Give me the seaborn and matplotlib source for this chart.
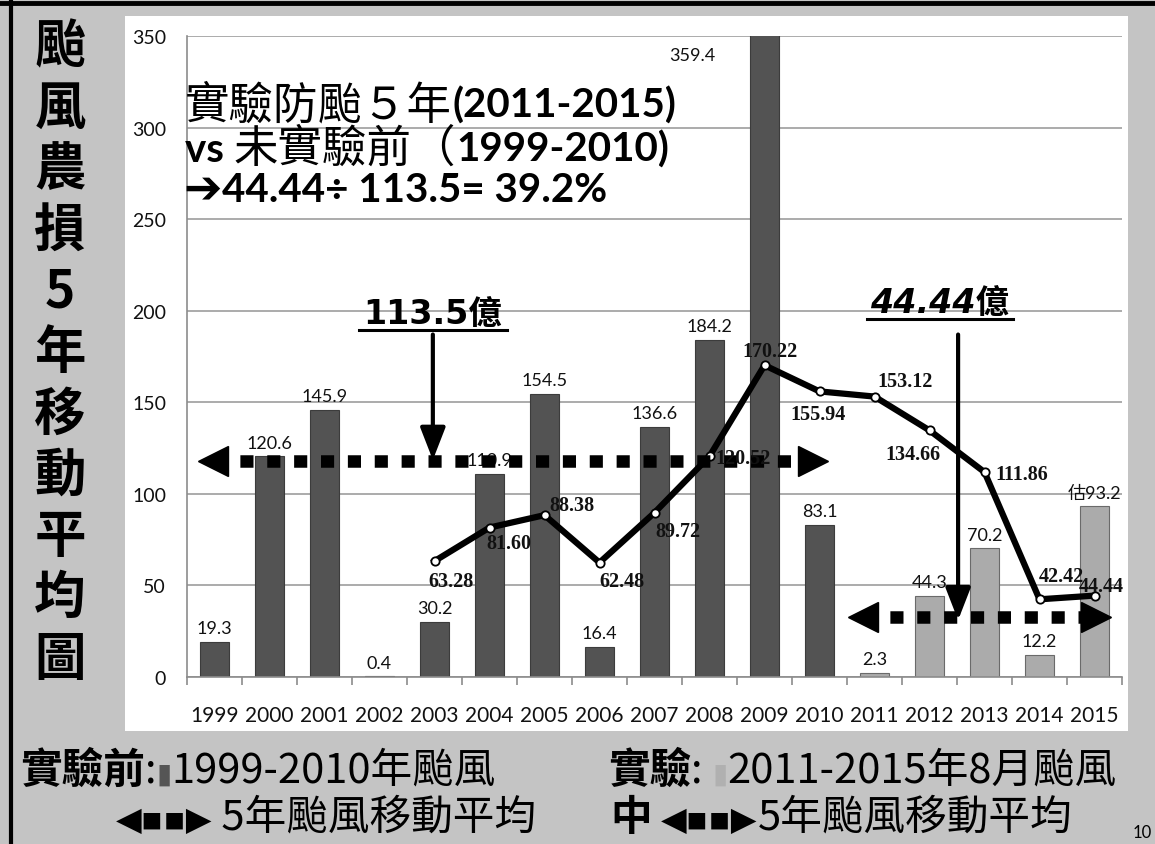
import numpy as np
import pandas as pd
import matplotlib
matplotlib.use("Agg")
import matplotlib.pyplot as plt
import seaborn as sns
from matplotlib.patches import Rectangle
from matplotlib.lines import Line2D
from matplotlib import font_manager

# ---------------- data ----------------
years = ['1999', '2000', '2001', '2002', '2003', '2004', '2005', '2006', '2007',
         '2008', '2009', '2010', '2011', '2012', '2013', '2014', '2015']
damage = [19.3, 120.6, 145.9, 0.4, 30.2, 110.9, 154.5, 16.4, 136.6,
          184.2, 359.4, 83.1, 2.3, 44.3, 70.2, 12.2, 93.2]
bar_text = ['19.3', '120.6', '145.9', '0.4', '30.2', '110.9', '154.5', '16.4', '136.6',
            '184.2', '359.4', '83.1', '2.3', '44.3', '70.2', '12.2', '估93.2']
period = ['實驗前'] * 12 + ['實驗'] * 5
ma_years = ['2003', '2004', '2005', '2006', '2007', '2008', '2009', '2010',
            '2011', '2012', '2013', '2014', '2015']
ma_values = [63.28, 81.60, 88.38, 62.48, 89.72, 120.52, 170.22, 155.94,
             153.12, 134.66, 111.86, 42.42, 44.44]
ma_text = ['63.28', '81.60', '88.38', '62.48', '89.72', '120.52', '170.22', '155.94',
           '153.12', '134.66', '111.86', '42.42', '44.44']
avg_before_text = '113.5億'
avg_after_text = '44.44億'
y_ticks = [0, 50, 100, 150, 200, 250, 300, 350]

# ---------------- style ----------------
CJK = 'Noto Sans CJK TC'
names = {f.name for f in font_manager.fontManager.ttflist}
NARROW = 'Liberation Sans Narrow' if 'Liberation Sans Narrow' in names else 'Lato'

W, H = 1155, 845
fig = plt.figure(figsize=(W / 100, H / 100), dpi=100)
fig.patch.set_facecolor('#c4c4c4')

# white chart panel
fig.add_artist(Rectangle((125 / W, 1 - 732 / H), (1128 - 125) / W, (732 - 17) / H,
                         transform=fig.transFigure, facecolor='white',
                         edgecolor='none', zorder=-5))
# black frame pieces (top / left)
fig.add_artist(Line2D([0, 1], [1 - 4 / H, 1 - 4 / H], transform=fig.transFigure,
                      color='black', lw=3.5))
fig.add_artist(Line2D([11 / W, 11 / W], [0, 1], transform=fig.transFigure,
                      color='black', lw=3))

ax = fig.add_axes([187 / W, 1 - 678 / H, (1122 - 187) / W, (678 - 37) / H])
ax.set_facecolor('white')

df = pd.DataFrame({'year': years, 'damage': damage, 'period': period})
sns.barplot(data=df, x='year', y='damage', hue='period',
            palette={'實驗前': '#535353', '實驗': '#ababab'},
            dodge=False, width=0.51, legend=False, ax=ax, saturation=1)

for cont in ax.containers:
    labels = []
    for bar in cont:
        i = int(round(bar.get_x() + bar.get_width() / 2))
        bar.set_edgecolor('#3c3c3c' if period[i] == '實驗前' else '#6a6a6a')
        bar.set_linewidth(0.8)
        labels.append('' if damage[i] > 350 else bar_text[i])
    ax.bar_label(cont, labels=labels, padding=4, fontsize=13,
                 family=['Lato', CJK], color='#111111')

# label of clipped bar
i_max = int(np.argmax(damage))
ax.annotate(bar_text[i_max], (i_max, 350), xytext=(-52, -14),
            textcoords='offset points', ha='center', va='center',
            fontsize=13, family='Lato', color='#111111')

ax.set_ylim(0, 350)
ax.set_xlim(-0.5, len(years) - 0.5)
ax.set_yticks(y_ticks)
ax.set_xlabel('')
ax.set_ylabel('')
ax.grid(axis='y', color='#9d9d9d', lw=1.2)
ax.grid(axis='x', visible=False)
ax.set_axisbelow(True)
for s in ['top', 'right']:
    ax.spines[s].set_visible(False)
ax.spines['left'].set_color('#8c8c8c')
ax.spines['bottom'].set_color('#8c8c8c')
ax.spines['left'].set_linewidth(1.2)
ax.spines['bottom'].set_linewidth(1.2)
ax.tick_params(axis='y', length=0, pad=15, labelsize=14, labelcolor='#111111')
ax.tick_params(axis='x', which='major', length=0, pad=20, labelsize=15,
               labelcolor='#111111')
ax.set_xticks(np.arange(-0.5, len(years), 1), minor=True)
ax.tick_params(axis='x', which='minor', length=6, color='#8c8c8c', width=1.2)
for t in ax.get_yticklabels():
    t.set_family('Lato')
for t in ax.get_xticklabels():
    t.set_family(NARROW)

# moving average line
ma_pos = [years.index(y) for y in ma_years]
sns.lineplot(x=ma_pos, y=ma_values, ax=ax, color='black', lw=4.5, marker='o',
             markersize=6, markerfacecolor='white', markeredgecolor='black',
             markeredgewidth=1.3, zorder=6)
ma_off = [(12, -14), (14, -11), (20, 7), (16, -13), (17, -13), (24, -1),
          (4, 10), (-1, -16), (22, 11), (-12, -17), (27, -1), (16, 17), (5, 7)]
for p, v, t, o in zip(ma_pos, ma_values, ma_text, ma_off):
    ax.annotate(t, (p, v), xytext=o, textcoords='offset points', ha='center',
                va='center', fontsize=14.5, fontweight='bold',
                family='Liberation Serif', color='#111111', zorder=8)

# dotted double arrows
def dotted_arrow(x0, x1, y):
    ax.plot([x0, x1], [y, y], color='black', lw=9, linestyle=(0, (1.05, 1.1)),
            dash_capstyle='butt', zorder=7, clip_on=False)
    ax.plot([x0], [y], marker='<', ms=21, color='black', zorder=7, clip_on=False)
    ax.plot([x1], [y], marker='>', ms=21, color='black', zorder=7, clip_on=False)

dotted_arrow(-0.03, 10.88, 118)
dotted_arrow(11.79, 16.03, 32.7)

# average callouts with arrows
def callout(text, xc, ybase, yline, x_arrow, y_from, y_to, half, italic=False):
    ax.text(xc, ybase, text, ha='center', va='baseline', fontsize=24,
            fontweight='bold', style='italic' if italic else 'normal',
            family=['DejaVu Sans', CJK], color='black', zorder=9)
    ax.plot([xc - half, xc + half], [yline, yline], color='black', lw=2.2,
            zorder=9, clip_on=False)
    ax.annotate('', xy=(x_arrow, y_to), xytext=(x_arrow, y_from),
                arrowprops=dict(arrowstyle='-|>,head_length=0.9,head_width=0.35',
                                lw=3, color='black', shrinkA=0, shrinkB=0,
                                mutation_scale=22), zorder=9)

callout(avg_before_text, 3.97, 193.5, 189.5, 3.97, 187, 118.5, 1.34)
callout(avg_after_text, 13.19, 199.5, 195.4, 13.52, 187, 31, 1.32, italic=True)

# ---------------- free text (pixel positions) ----------------
def runs(x, y, parts):
    r = fig.canvas.get_renderer()
    cx = x
    for s, kw in parts:
        t = fig.text(cx / W, 1 - y / H, s, ha='left', va='baseline', **kw)
        bb = t.get_window_extent(renderer=r)
        cx = bb.x1
    return cx

LAT_B = dict(family=['Lato', CJK], fontweight='bold', fontsize=29, color='black')
CJ_R = dict(family=[CJK], fontweight='normal', fontsize=32, color='black')

runs(185, 118, [('實驗防颱５年', CJ_R), ('(2011-2015)', LAT_B)])
runs(185, 162, [('vs ', LAT_B), ('未實驗前（', CJ_R), ('1999-2010)', LAT_B)])
runs(183, 202, [('➔', dict(family=['DejaVu Sans'], fontweight='bold', fontsize=33,
                          color='black')),
                ('44.44÷ 113.5= 39.2%', LAT_B)])

# vertical title on the left
title_chars = list('颱風農損5年移動平均圖')
for k, ch in enumerate(title_chars):
    fig.text(60 / W, 1 - (47 + 61.2 * k) / H, ch, ha='center', va='center',
             fontsize=37, fontweight='bold', family=[CJK], color='black')

# bottom legend text
LEG = dict(family=[CJK], fontsize=30, color='black')
LEG_B = dict(family=[CJK], fontsize=30, color='black', fontweight='bold')
ARW = dict(family=['DejaVu Sans'], fontsize=24, color='black')
runs(20, 783, [('實驗前', LEG_B), (':', LEG),
               ('▮', dict(family=['DejaVu Sans'], fontsize=20, color='#555555')),
               ('1999-2010年颱風', LEG)])
runs(608, 783, [('實驗', LEG_B), (': ', LEG),
                ('▮', dict(family=['DejaVu Sans'], fontsize=20, color='#b0b0b0')),
                ('2011-2015年8月颱風', LEG)])
runs(116, 830, [('◀▪▪▶', ARW), (' 5年颱風移動平均', LEG)])
runs(610, 830, [('中', LEG_B), (' ', LEG), ('◀▪▪▶', ARW), ('5年颱風移動平均', LEG)])
fig.text(1133 / W, 1 - 838 / H, '10', ha='left', va='baseline', fontsize=12,
         family='Lato', color='black')

fig.savefig('out.png', dpi=100, facecolor=fig.get_facecolor())
